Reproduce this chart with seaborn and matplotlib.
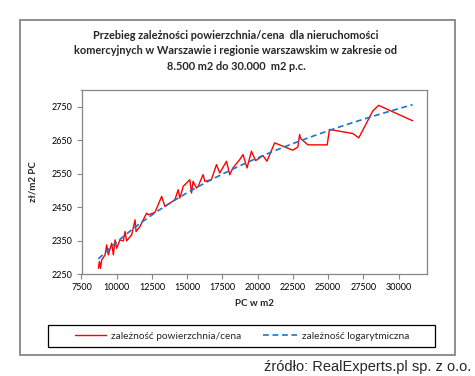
import numpy as np
import pandas as pd
import seaborn as sns
import matplotlib
matplotlib.use("Agg")
import matplotlib.pyplot as plt
from matplotlib.patches import Rectangle

# ---- data ----
area_m2 = [8700, 8770, 8850, 8930, 9170, 9290, 9400, 9645, 9760, 9880,
           10000, 10230, 10470, 10590, 10700, 11060, 11300, 11370, 11650, 12120,
           12240, 12710, 13190, 13420, 14130, 14360, 14480, 14720, 15190, 15310,
           15420, 15660, 15780, 16130, 16250, 16720, 17080, 17310, 17790, 18020,
           18250, 18730, 18960, 19250, 19560, 19860, 20380, 20660, 21210, 22500,
           22860, 22980, 23050, 23570, 24940, 25100, 26750, 27180, 28170, 28590,
           31000]
price = [2267, 2287, 2267, 2292, 2307, 2337, 2307, 2342, 2307, 2352,
         2327, 2352, 2349, 2377, 2349, 2367, 2412, 2377, 2392, 2432,
         2427, 2434, 2482, 2452, 2472, 2502, 2477, 2512, 2532, 2492,
         2527, 2507, 2512, 2547, 2527, 2532, 2577, 2552, 2587, 2547,
         2567, 2592, 2607, 2567, 2617, 2589, 2604, 2587, 2642, 2620,
         2630, 2667, 2655, 2636, 2636, 2682, 2670, 2657, 2737, 2754,
         2708]

title_text = ("Przebieg zależności powierzchnia/cena  dla nieruchomości\n"
              "komercyjnych w Warszawie i regionie warszawskim w zakresie od\n"
              "8.500 m2 do 30.000  m2 p.c.")
x_label = "PC w m2"
y_label = "zł/m2 PC"
legend_labels = ["zależność powierzchnia/cena", "zależność logarytmiczna"]
source_text = "źródło: RealExperts.pl sp. z o.o."
x_ticks = [7500, 10000, 12500, 15000, 17500, 20000, 22500, 25000, 27500, 30000]
y_ticks = [2250, 2350, 2450, 2550, 2650, 2750]

df = pd.DataFrame({"x": area_m2, "y": price})
# logarithmic trend line fitted to the series (as in the source chart)
b, a = np.polyfit(np.log(df["x"]), df["y"], 1)
tx = np.linspace(min(area_m2), max(area_m2), 200)
trend = pd.DataFrame({"x": tx, "y": a + b * np.log(tx)})

sns.set_theme(style="white")
plt.rcParams["font.family"] = ["Lato", "DejaVu Sans"]

W, H = 475, 376
fig = plt.figure(figsize=(W / 100, H / 100), dpi=100)
ax = fig.add_axes([81.5 / W, 1 - 274 / H, (426.7 - 81.5) / W, (274 - 90) / H])

sns.lineplot(data=df, x="x", y="y", ax=ax, color="#FF0000", lw=1.0,
             sort=False, estimator=None, legend=False)
sns.lineplot(data=trend, x="x", y="y", ax=ax, color="#1A75C8", lw=1.2,
             estimator=None, legend=False)
ax.lines[1].set_dashes((3.5, 2.2))

ax.set_xlim(7500, 32000)
ax.set_ylim(2250, 2800)
ax.set_xticks(x_ticks)
ax.set_yticks(y_ticks)
ax.set_xticklabels([str(t) for t in x_ticks])
ax.set_yticklabels([str(t) for t in y_ticks])
ax.tick_params(axis="both", labelsize=6.5, colors="#868686", labelcolor="black",
               direction="out", length=3.5, width=0.8, pad=3,
               bottom=True, left=True)
for s in ax.spines.values():
    s.set_visible(True)
    s.set_color("#868686")
    s.set_linewidth(0.9)
ax.grid(False)
ax.set_xlabel(x_label, fontsize=7, fontweight="bold", labelpad=5)
ax.set_ylabel(y_label, fontsize=7, fontweight="bold", labelpad=10)

fig.text(236 / W, 1 - 51 / H, title_text, ha="center", va="center",
         fontsize=7.9, fontweight="bold", linespacing=1.5)

# legend: frame + two entries placed like the original
fig.patches.append(Rectangle((48.3 / W, 1 - 346.7 / H), (435 - 48.3) / W, 21.7 / H,
                             transform=fig.transFigure, fill=False,
                             edgecolor="black", lw=0.9))
h = ax.lines
fig.legend([h[0]], [legend_labels[0]], loc="center left",
           bbox_to_anchor=(75 / W, 1 - 336 / H), frameon=False,
           fontsize=7.3, handlelength=3.1, handletextpad=0.45,
           borderpad=0, borderaxespad=0)
fig.legend([h[1]], [legend_labels[1]], loc="center left",
           bbox_to_anchor=(263 / W, 1 - 336 / H), frameon=False,
           fontsize=7.3, handlelength=3.4, handletextpad=0.4,
           borderpad=0, borderaxespad=0)

fig.patches.append(Rectangle((20 / W, 1 - 355 / H), 435 / W, 335 / H,
                             transform=fig.transFigure, fill=False,
                             edgecolor="#868686", lw=1.3))

fig.text(471 / W, 1 - 367 / H, source_text, ha="right", va="center",
         fontsize=10.5, family=["Liberation Sans", "DejaVu Sans"])

fig.savefig("out.png", dpi=100)
